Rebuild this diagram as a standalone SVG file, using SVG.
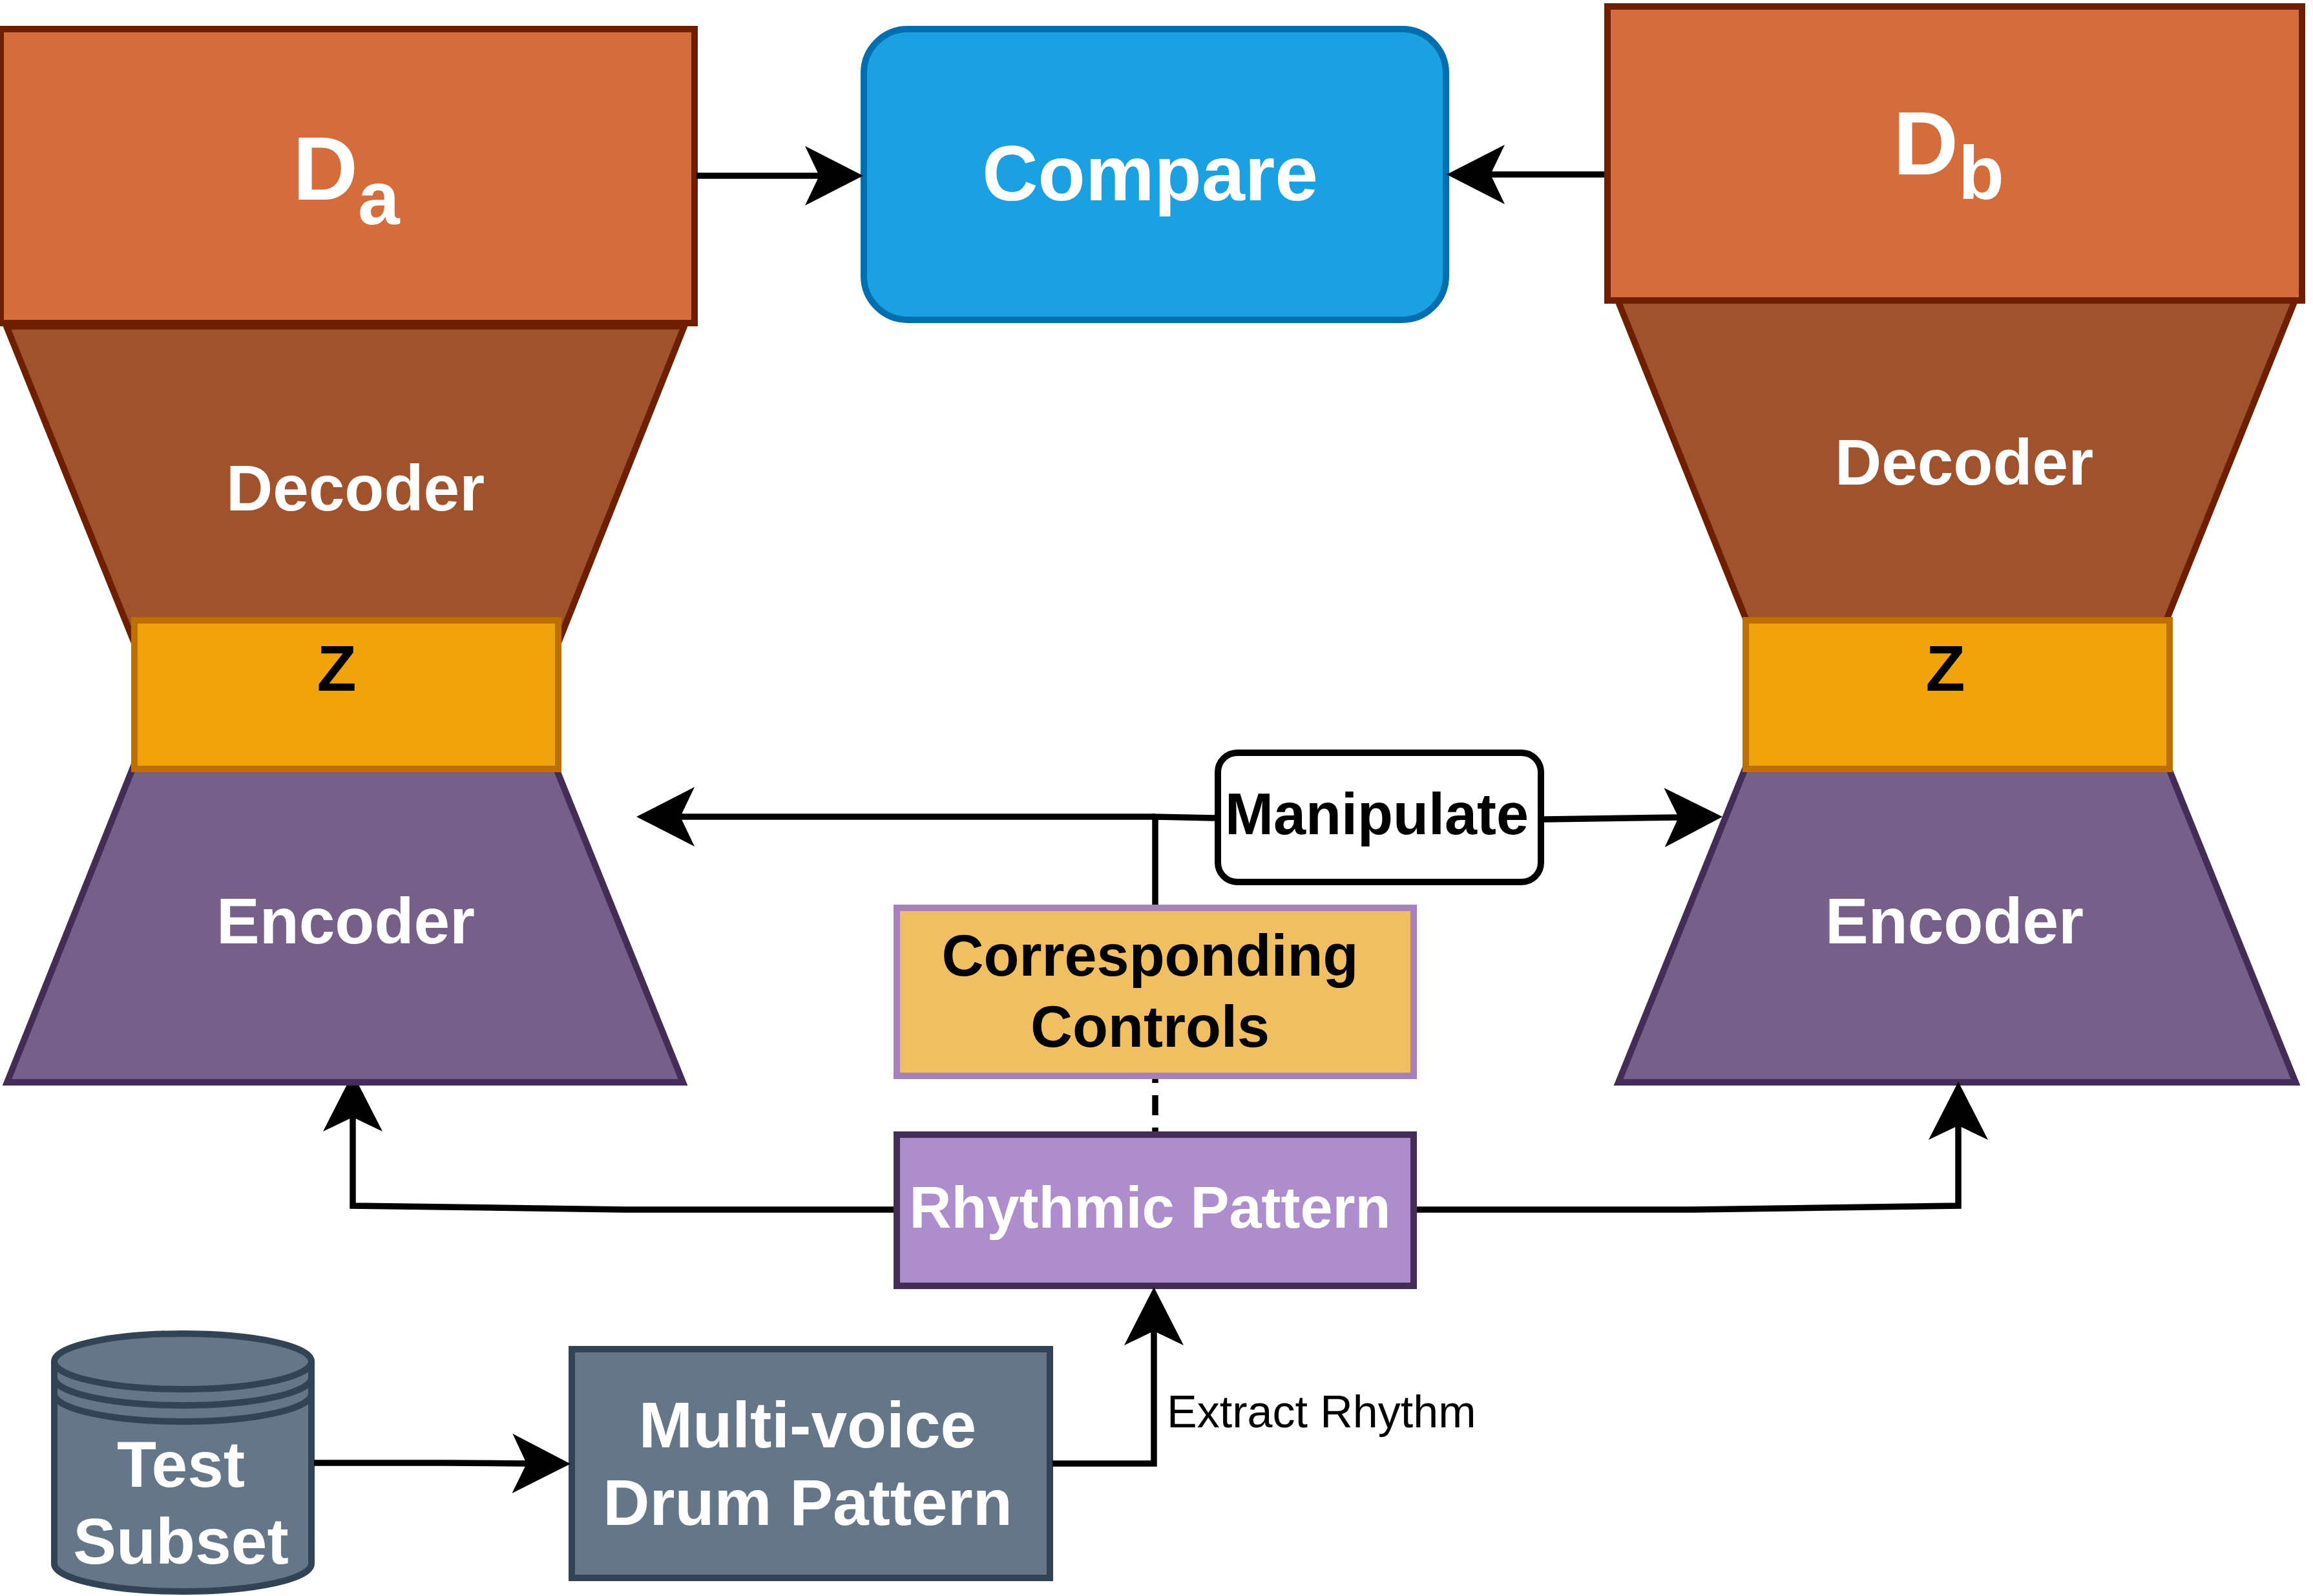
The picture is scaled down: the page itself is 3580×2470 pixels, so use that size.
<svg xmlns="http://www.w3.org/2000/svg" width="3580" height="2470" viewBox="0 0 3580 2470">
<defs>
<marker id="ah" markerUnits="userSpaceOnUse" markerWidth="100" markerHeight="100" viewBox="0 -50 100 100" refX="22" refY="0" orient="auto"><path d="M0 -46L90 0L0 46L22 0Z" fill="#000"/></marker>
</defs>
<style>
text{font-family:"Liberation Sans",Arial,sans-serif;text-anchor:middle}
.b{font-weight:700}
.w{fill:#fff}
.k{fill:#000}
.t100{font-size:100px}
.t90{font-size:90px}
.dbox{fill:#d56c3b;stroke:#6d1f00;stroke-width:10}
.dec{fill:#a0522d;stroke:#6d1f00;stroke-width:10}
.enc{fill:#76608a;stroke:#432d57;stroke-width:10}
.z{fill:#f0a30a;stroke:#bd7000;stroke-width:10}
.slate{fill:#647687;stroke:#314354;stroke-width:10}
.con{fill:none;stroke:#000;stroke-width:9.5}
.arr{marker-end:url(#ah)}
</style>
<g id="connectors-under">
<path class="con arr" d="M1383 1872L966 1872L546 1866L546 1729"/>
</g>
<g id="decoder-a"><polygon class="dec" points="10,505 212,1005 860,1005 1059,505"/><text class="b w t100" x="550" y="790">Decoder</text></g>
<g id="encoder-a"><polygon class="enc" points="11,1675 213,1170 853,1170 1057,1675"/><text class="b w t100" x="535" y="1460">Encoder</text></g>
<g id="da"><rect class="dbox" x="1" y="45" width="1074" height="455"/><text class="b w" x="453" y="309" style="text-anchor:start;font-size:140px">D<tspan dy="38" style="font-size:116px">a</tspan></text></g>
<g id="z-a"><rect class="z" x="208" y="960" width="656" height="230"/><text class="b k t100" x="521" y="1069">Z</text></g>
<g id="decoder-b"><polygon class="dec" points="2504,465 2703,960 3353,960 3552,465"/><text class="b w t100" x="3040" y="750">Decoder</text></g>
<g id="encoder-b"><polygon class="enc" points="2505,1675 2709,1170 3349,1170 3553,1675"/><text class="b w t100" x="3025" y="1460">Encoder</text></g>
<g id="db"><rect class="dbox" x="2488" y="10" width="1075" height="455"/><text class="b w" x="2930" y="270" style="text-anchor:start;font-size:140px">D<tspan dy="38" style="font-size:116px">b</tspan></text></g>
<g id="z-b"><rect class="z" x="2702" y="960" width="656" height="230"/><text class="b k t100" x="3011" y="1069">Z</text></g>
<g id="compare"><rect x="1337" y="45" width="901" height="450" rx="68" ry="68" fill="#1ba1e2" stroke="#006eaf" stroke-width="10"/><text class="b w" x="1780" y="310" style="font-size:120px">Compare</text></g>
<g id="manipulate"><rect x="1885" y="1165" width="500" height="200" rx="30" ry="30" fill="#fff" stroke="#000" stroke-width="10"/><text class="b k t90" x="2131" y="1291">Manipulate</text></g>
<g id="controls"><rect x="1388" y="1405" width="800" height="260" fill="#efbf62" stroke="#a680b8" stroke-width="10"/><text class="b k t90" x="1780" y="1510">Corresponding</text><text class="b k t90" x="1780" y="1620">Controls</text></g>
<g id="rhythmic"><rect x="1388" y="1756" width="800" height="234" fill="#ae8dcc" stroke="#432d57" stroke-width="10"/><text class="b w t90" x="1780" y="1900">Rhythmic Pattern</text></g>
<g id="multi"><rect class="slate" x="885" y="2088" width="740" height="354"/><text class="b w t100" x="1250" y="2240">Multi-voice</text><text class="b w t100" x="1250" y="2360">Drum Pattern</text></g>
<g id="subset"><path class="slate" d="M84 2107A199 43 0 0 1 482 2107L482 2420A199 43 0 0 1 84 2420Z"/><path class="slate" style="fill:none" d="M84 2107A199 43 0 0 0 482 2107M84 2132A199 43 0 0 0 482 2132M84 2157A199 43 0 0 0 482 2157"/><text class="b w t100" x="280" y="2301">Test</text><text class="b w t100" x="280" y="2420">Subset</text></g>
<g id="connectors">
<path class="con arr" d="M1078 272L1268 272"/>
<path class="con arr" d="M2483 270L2307 270"/>
<path class="con arr" d="M1788 1264L1053 1264"/>
<path class="con" d="M1880 1266L1788 1264L1788 1400"/>
<path class="con arr" d="M2390 1268L2598 1265"/>
<path class="con" style="stroke-dasharray:31 19;stroke-dashoffset:25" d="M1788 1670L1788 1751"/>
<path class="con arr" d="M2193 1872L2620 1872L3031 1866L3031 1742"/>
<path class="con arr" d="M1629 2265L1786 2265L1786 2060"/>
<path class="con arr" d="M486 2264L690 2264L815 2265"/>
</g>
<text id="extract-rhythm" x="1806" y="2209" style="text-anchor:start;font-size:70px" class="k">Extract Rhythm</text>
</svg>
